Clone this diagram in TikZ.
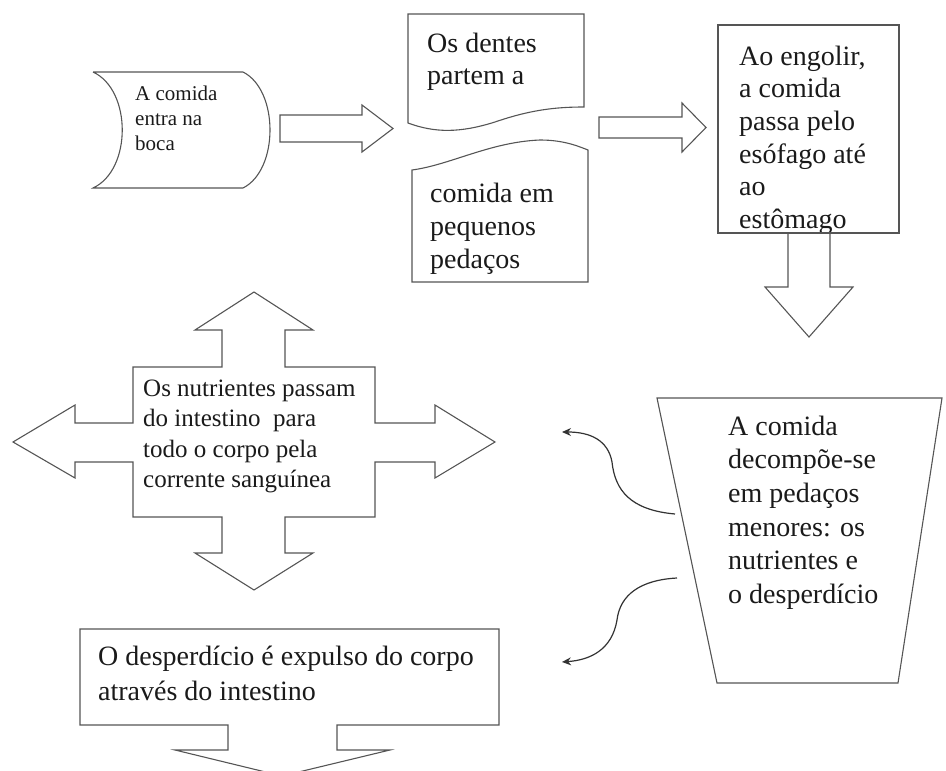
\documentclass[tikz,border=0pt]{standalone}
\usepackage{fontspec}
\setmainfont{Liberation Serif}
\usetikzlibrary{arrows.meta}
\definecolor{linha}{HTML}{555555}
\definecolor{tinta}{HTML}{1A1A1A}

\begin{document}
\begin{tikzpicture}[x=1pt,y=-1pt,
  forma/.style={draw=linha,line width=1.1pt},
  texto/.style={anchor=north west,inner sep=0pt,align=left,text=tinta},
  seta/.style={draw=black!80,line width=1.2pt,-{Stealth[length=9pt,width=8pt]}}]
\useasboundingbox (0,0) rectangle (946,771);

  % Boca
\draw[forma] (93,72) -- (243,72) .. controls (279,90) and (279,170) .. (243,188)
  -- (93,188) .. controls (132,170) and (132,90) .. (93,72);
\node[texto,font=\fontsize{21}{25}\selectfont] (boca) at (135,85.5) {A comida\\entra na\\boca};

% Seta 1
\draw[forma] (280,115) -- (362,115) -- (362,105) -- (393,128.5) -- (362,152)
  -- (362,142) -- (280,142) -- cycle;

  % Dentes
\draw[forma] (408,14) -- (584,14) -- (584,107) .. controls (555,107) and (530,110) .. (495,122)
  .. controls (460,133) and (435,133) .. (408,123) -- cycle;
\node[texto,font=\fontsize{28}{32}\selectfont] (dentes) at (427,32.7) {Os dentes\\partem a};

\draw[forma] (412,170) .. controls (450,165) and (490,142) .. (540,140)
  .. controls (565,140) and (580,147) .. (588,150) -- (588,282) -- (412,282) -- cycle;
\node[texto,font=\fontsize{28}{33}\selectfont] (pedacos) at (430,182.7) {comida em\\pequenos\\pedaços};

% Seta 2
\draw[forma] (599,117) -- (682,117) -- (682,103) -- (706,127.5) -- (682,152)
  -- (682,138) -- (599,138) -- cycle;

  % Esofago
\begin{scope}
  \clip (718,25) rectangle (899,233);
  \node[texto,font=\fontsize{28}{32.6}\selectfont] (esofago) at (739,45.7)
    {Ao engolir,\\a comida\\passa pelo\\esófago até\\ao\\estômago};
\end{scope}
\draw[forma] (718,25) rectangle (899,233);
\draw[forma] (788,233) -- (788,287) -- (765,287) -- (809,337) -- (853,287)
  -- (830,287) -- (830,233);

% Estomago
\coordinate (t1) at (657,398);
\coordinate (t2) at (942,398);
\coordinate (t3) at (898,683);
\coordinate (t4) at (717,683);
\draw[forma] (t1) -- (t2) -- (t3) -- (t4) -- cycle;
\node[texto,font=\fontsize{28}{33.6}\selectfont] (estomago) at (728,415.7)
  {A comida\\decompõe-se\\em pedaços\\menores: os\\nutrientes e\\o desperdício};

  % Nutrientes (cruz)
\draw[forma] (133,367) -- (222,367) -- (222,330) -- (195,330) -- (254,292) -- (313,330)
  -- (285,330) -- (285,367) -- (375,367) -- (375,423) -- (435,423) -- (435,405)
  -- (495,442) -- (435,478) -- (435,462) -- (375,462) -- (375,517) -- (285,517)
  -- (285,553) -- (313,553) -- (254,590) -- (195,553) -- (222,553) -- (222,517)
  -- (133,517) -- (133,462) -- (75,462) -- (75,478) -- (13,442) -- (75,405)
  -- (75,423) -- (133,423) -- cycle;
\node[texto,font=\fontsize{25}{30.3}\selectfont] (nutrientes) at (143,379.75)
  {Os nutrientes passam\\do intestino\ \ para\\todo o corpo pela\\corrente sanguínea};

% Desperdicio
\draw[forma] (80,629) -- (499,629) -- (499,725) -- (337,725) -- (337,750) -- (390,750)
  -- (282,776) -- (175,750) -- (228,750) -- (228,725) -- (80,725) -- cycle;
\node[texto,font=\fontsize{28}{35}\selectfont] (desperdicio) at (98,645.7)
  {O desperdício é expulso do corpo\\através do intestino};

  % setas curvas
\coordinate (saida1) at (675,514);
\coordinate (saida2) at (677,578);
\coordinate (nutr) at (562,432);
\coordinate (desp) at (562,662);
\draw[seta] (saida1) .. controls (630,510) and (615,490) .. (612,462)
  .. controls (608,440) and (590,432) .. (nutr);
\draw[seta] (saida2) .. controls (640,580) and (620,595) .. (617,620)
  .. controls (612,650) and (590,660) .. (desp);
\end{tikzpicture}
\end{document}
